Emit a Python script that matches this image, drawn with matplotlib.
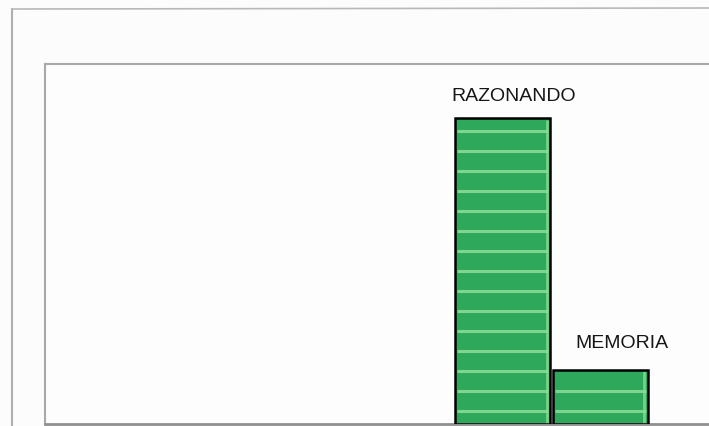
import matplotlib
matplotlib.use("Agg")
import matplotlib.pyplot as plt
import numpy as np

categories = ["RAZONANDO", "MEMORIA"]
values = [85, 15]

W, H = 709, 427
fig = plt.figure(figsize=(W / 100, H / 100), dpi=100)
fig.patch.set_facecolor("#fcfcfc")

# outer frame (lines in figure coordinates)
fig.add_artist(plt.Line2D([12 / W, 12 / W], [0, 1 - 10 / H], color="#b0b0b0", lw=1.5))
fig.add_artist(plt.Line2D([12 / W, 1.0], [1 - 10 / H, 1 - 9 / H], color="#b8b8b8", lw=1.2))

left = 45 / W
bottom = 2.5 / H
top = 1 - 65 / H
ax = fig.add_axes([left, bottom, 1.03 - left, top - bottom])
ax.set_facecolor("#fdfdfd")

x = np.arange(len(categories))
width = 0.97
green = "#2ea85a"
stripe = "#86dc95"

ax.bar(x, values, width=width, color=green, linewidth=0, zorder=2)

# light horizontal texture stripes inside the bars
stripe_step = 5.55
stripe_start = 3.6
for xi, v in zip(x, values):
    ys = np.arange(stripe_start, v - 1.5, stripe_step)
    ax.hlines(ys, xi - width / 2 + 0.02, xi + width / 2 - 0.02, colors=stripe,
              linewidth=2.2, alpha=0.9, zorder=2.5)
    # light sheen just inside the right edge
    ax.vlines(xi + width / 2 - 0.035, 0, v - 0.5, colors=stripe, linewidth=2.0,
              alpha=0.8, zorder=2.6)

ax.bar(x, values, width=width, facecolor="none", edgecolor="black", linewidth=1.8, zorder=3)

ax.set_ylim(0, 100)
px_per_unit = 97.5
ax.set_xlim(-(502.5 - 45) / px_per_unit, (730 - 502.5) / px_per_unit)

x_offsets = [0.11, 0.22]
y_offsets = [5.0, 6.4]
for xi, v, c, dx, dy in zip(x, values, categories, x_offsets, y_offsets):
    ax.text(xi + dx, v + dy, c, ha="center", va="baseline", fontsize=14,
            family=["Liberation Sans", "DejaVu Sans"], color="#161616")

for s in ["left", "top"]:
    ax.spines[s].set_color("#a8a8a8")
    ax.spines[s].set_linewidth(1.5)
ax.spines["bottom"].set_color("#909090")
ax.spines["bottom"].set_linewidth(2)
ax.spines["right"].set_visible(False)
ax.set_xticks([])
ax.set_yticks([])

fig.savefig("out.png", dpi=100, facecolor=fig.get_facecolor())
